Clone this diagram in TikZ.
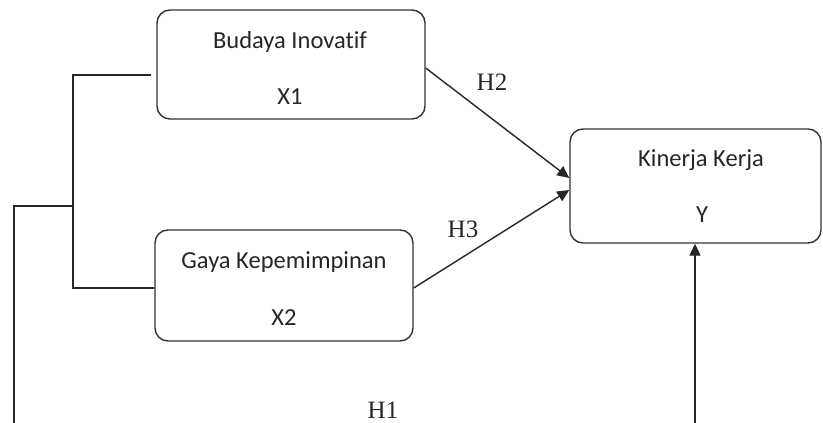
\documentclass[tikz,border=0pt]{standalone}
\usepackage{fontspec}
\setmainfont[Ligatures=NoCommon]{Carlito}
\newfontfamily\hfont{Liberation Serif}
\usetikzlibrary{arrows.meta}
\begin{document}
\begin{tikzpicture}[x=1pt,y=-1pt,
  box/.style={draw=black!80, line width=1.4pt, rounded corners=13pt, inner sep=0pt},
  lbl/.style={font=\fontsize{24.5}{28}\selectfont, text=black!85, inner sep=0pt},
  hyp/.style={font=\hfont\fontsize{25}{29}\selectfont, text=black!85, inner sep=0pt},
  conn/.style={draw=black!85, line width=1.4pt},
  arr/.style={conn, -{Triangle[length=12pt,width=11pt]}}]
\useasboundingbox (0,0) rectangle (823,423);
\begin{scope}
\clip (0,0) rectangle (823,423);
% boxes
\node[box, minimum width=268pt, minimum height=109pt] (x1) at (291,64.5) {};
\node[box, minimum width=258pt, minimum height=111pt] (x2) at (284,285.5) {};
\node[box, minimum width=251pt, minimum height=114pt] (y) at (695.5,186) {};
% box texts
\node[lbl] (t1) at (290,42) {Budaya Inovat\kern0pt if};
\node[lbl] (t1b) at (290,97) {X1};
\node[lbl] (t2) at (284,262) {Gaya Kepemimpinan};
\node[lbl] (t2b) at (284,318) {X2};
\node[lbl] (t3) at (701,160) {Kinerja Kerja};
\node[lbl] (t3b) at (702,215) {Y};
% hypothesis labels
\node[hyp] (h2) at (492,82) {H2};
\node[hyp] (h3) at (463,229) {H3};
\node[hyp] (h1) at (383,410) {H1};
% connector points
\coordinate (e1) at (151,75);
\coordinate (ja) at (73,75);
\coordinate (jb) at (73,288);
\coordinate (jm) at (73,206);
\coordinate (jl) at (14,206);
\coordinate (jbot) at (14,430);
\coordinate (s1) at (695,430);
\coordinate (s2) at (0,68);
\coordinate (t2y) at (0,178);
\coordinate (s3) at (0,288);
\coordinate (t3y) at (0,190);
% connectors
\draw[conn] (e1) -- (ja) -- (jb) -- (x2.west |- jb);
\draw[conn] (jm) -- (jl) -- (jbot);
\draw[arr] (s1) -- (y.south -| s1);
\draw[arr] (x1.east |- s2) -- (y.west |- t2y);
\draw[arr] (x2.east |- s3) -- (y.west |- t3y);
\end{scope}
\end{tikzpicture}
\end{document}
